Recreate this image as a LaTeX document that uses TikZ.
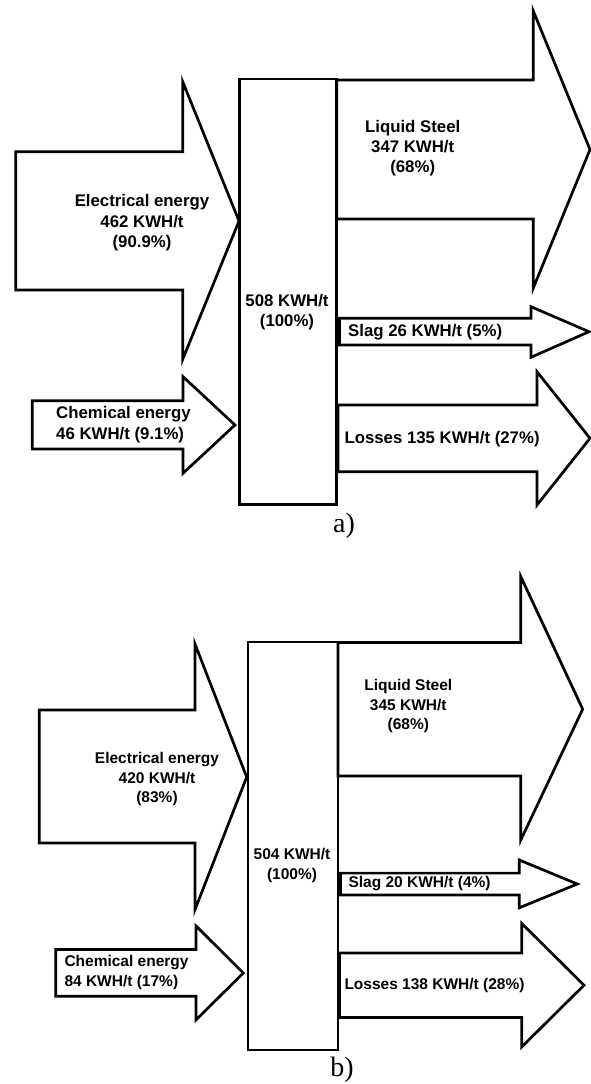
\documentclass[tikz,border=0pt]{standalone}
\usepackage{fontspec}
\setmainfont{Liberation Sans}
\newfontfamily\capfont{Liberation Serif}
\begin{document}
\begin{tikzpicture}[x=1pt,y=-1pt,
  flow/.style={draw=black, line width=2.7pt, fill=white, line join=miter, miter limit=10},
  lblA/.style={font=\fontsize{16.8}{20.3}\selectfont\bfseries, align=center, inner sep=0pt},
  lblB/.style={font=\fontsize{15.5}{19.1}\selectfont\bfseries, align=center, inner sep=0pt},
  lblAl/.style={lblA, align=left},
  lblBl/.style={lblB, align=left},
  captxt/.style={font=\capfont\fontsize{28}{32}\selectfont, inner sep=0pt}]
\fill[white] (0,0) rectangle (591,1084);
\useasboundingbox (0,0) rectangle (591,1084);

% ---------------- a) ----------------
\draw[flow] (15.7,151.7) -- (182.7,151.7) -- (182.7,81.7) -- (239,221) -- (182.7,359.3) -- (182.7,290) -- (15.7,290) -- cycle;
\draw[flow] (32.3,400.7) -- (183,400.7) -- (183,376.7) -- (235,425) -- (183,473.3) -- (183,449) -- (32.3,449) -- cycle;
\draw[flow] (239.5,79) rectangle (336.7,504.5);
\draw[flow] (336.7,80) -- (533.3,80) -- (533.3,11) -- (590,149.5) -- (533.3,288) -- (533.3,219) -- (336.7,219) -- cycle;
\draw[flow] (339.5,318.3) -- (531,318.3) -- (531,306.7) -- (589,331.7) -- (531,357.3) -- (531,345) -- (339.5,345) -- cycle;
\draw[flow] (338,405) -- (537,405) -- (537,371.7) -- (590,438.3) -- (537,505) -- (537,471.7) -- (338,471.7) -- cycle;

\node[lblA] (elA) at (142,222.7) {Electrical energy\\462 KWH/t\\(90.9\%)};
\node[lblAl, anchor=west] (chA) at (56,424.7) {Chemical energy\\46 KWH/t (9.1\%)};
\node[lblA] (totA) at (287,312.5) {508 KWH/t\\(100\%)};
\node[lblA] (lsA) at (412.7,148) {Liquid Steel\\347 KWH/t\\(68\%)};
\node[lblA, anchor=west] (slA) at (348,331.7) {Slag 26 KWH/t (5\%)};
\node[lblA, anchor=west] (loA) at (344.3,439) {Losses 135 KWH/t (27\%)};
\node[captxt] (capA) at (344,526) {a)};

% ---------------- b) ----------------
\draw[flow] (39.3,710) -- (195,710) -- (195,644) -- (246.7,777) -- (195,909.6) -- (195,843) -- (39.3,843) -- cycle;
\draw[flow] (55.7,949.5) -- (196,949.5) -- (196,925.9) -- (243.3,973) -- (196,1019.9) -- (196,996.3) -- (55.7,996.3) -- cycle;
\draw[flow] (248,642) rectangle (338,1050);
\draw[flow] (338,642.4) -- (520.7,642.4) -- (520.7,576.4) -- (582.7,709.2) -- (520.7,840.2) -- (520.7,776) -- (338,776) -- cycle;
\draw[flow] (340.5,873.1) -- (519.3,873.1) -- (519.3,860) -- (577.3,884) -- (519.3,907.8) -- (519.3,895) -- (340.5,895) -- cycle;
\draw[flow] (339.5,952.9) -- (521.7,952.9) -- (521.7,923.4) -- (584,985.2) -- (521.7,1047) -- (521.7,1017.5) -- (339.5,1017.5) -- cycle;

\node[lblB] (elB) at (157,779) {Electrical energy\\420 KWH/t\\(83\%)};
\node[lblBl, anchor=west] (chB) at (64.3,972.5) {Chemical energy\\84 KWH/t (17\%)};
\node[lblB] (totB) at (292,865.5) {504 KWH/t\\(100\%)};
\node[lblB] (lsB) at (408.3,706) {Liquid Steel\\345 KWH/t\\(68\%)};
\node[lblB, anchor=west] (slB) at (348.3,883.5) {Slag 20 KWH/t (4\%)};
\node[lblB, anchor=west] (loB) at (344.3,985.9) {Losses 138 KWH/t (28\%)};
\node[captxt] (capB) at (342,1070) {b)};
\end{tikzpicture}
\end{document}
